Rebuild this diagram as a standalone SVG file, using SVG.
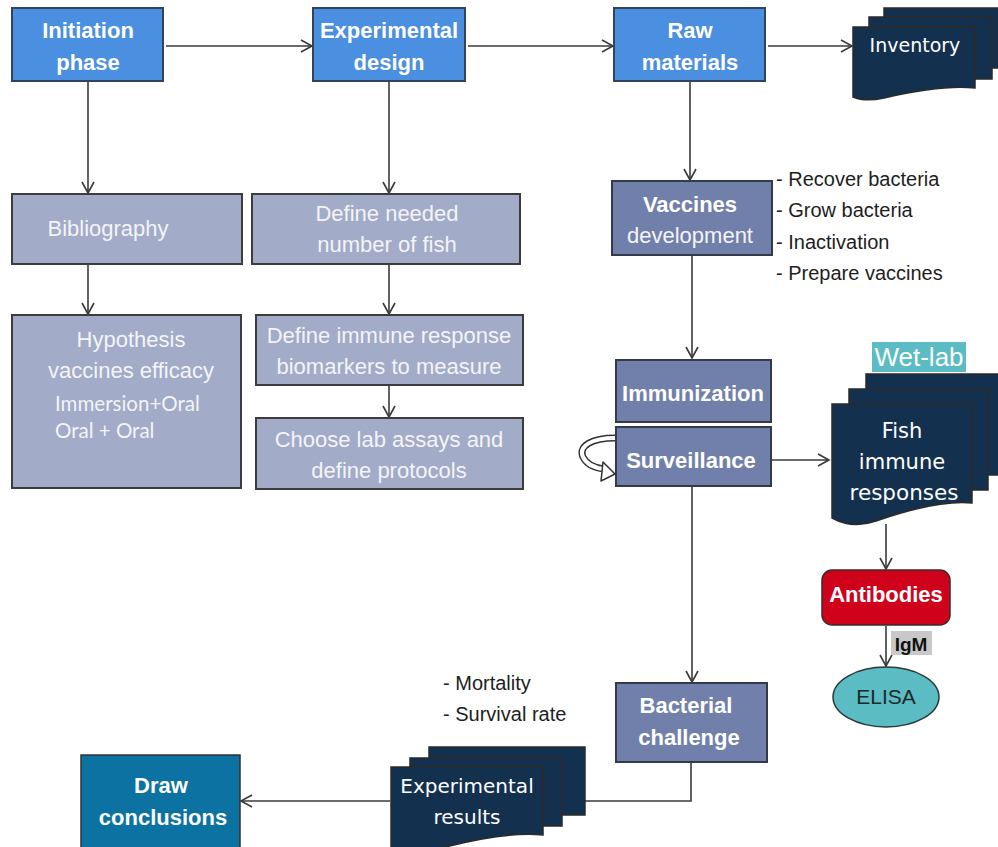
<svg xmlns="http://www.w3.org/2000/svg" width="998" height="847" viewBox="0 0 998 847">
<defs>
<style>
.blue{fill:#4a8fe0;stroke:#34435c;stroke-width:2}
.light{fill:#a2abc7;stroke:#3c3c3c;stroke-width:2}
.mid{fill:#7080ab;stroke:#333a4a;stroke-width:2}
.doc{fill:#14304f;stroke:#2a2a2a;stroke-width:1.5}
.t{font-family:"Liberation Sans",Arial,sans-serif;fill:#fff;text-anchor:middle}
.b{font-weight:bold;font-size:22px}
.r{font-size:22px;fill:#f4f4f8}
.d{font-family:"DejaVu Sans",Verdana,sans-serif;fill:#fff;text-anchor:middle}
.lst{font-family:"Liberation Sans",Arial,sans-serif;font-size:20px;fill:#1e1e1e}
.cal{font-family:Lato,"Open Sans",sans-serif;font-size:20.5px;fill:#f4f4f8}
.c{fill:none;stroke:#3a3a3a;stroke-width:1.6}
</style>
<marker id="ah" markerWidth="14" markerHeight="14" refX="12" refY="7" orient="auto" markerUnits="userSpaceOnUse">
<path d="M1,1 L12,7 L1,13" fill="none" stroke="#3a3a3a" stroke-width="1.6"/>
</marker>
</defs>
<rect width="998" height="847" fill="#fff"/>

<g id="connectors">
<line class="c" x1="166" y1="46" x2="312" y2="46" marker-end="url(#ah)"/>
<line class="c" x1="468" y1="46" x2="613" y2="46" marker-end="url(#ah)"/>
<line class="c" x1="768" y1="46" x2="852" y2="46" marker-end="url(#ah)"/>
<line class="c" x1="88" y1="82" x2="88" y2="193" marker-end="url(#ah)"/>
<line class="c" x1="389" y1="82" x2="389" y2="193" marker-end="url(#ah)"/>
<line class="c" x1="88" y1="265" x2="88" y2="314" marker-end="url(#ah)"/>
<line class="c" x1="389" y1="265" x2="389" y2="314" marker-end="url(#ah)"/>
<line class="c" x1="389" y1="386" x2="389" y2="417" marker-end="url(#ah)"/>
<line class="c" x1="690" y1="82" x2="690" y2="180" marker-end="url(#ah)"/>
<line class="c" x1="692" y1="256" x2="692" y2="358" marker-end="url(#ah)"/>
<line class="c" x1="772" y1="460" x2="829" y2="460" marker-end="url(#ah)"/>
<line class="c" x1="692" y1="487" x2="692" y2="682" marker-end="url(#ah)"/>
<line class="c" x1="886" y1="524" x2="886" y2="569" marker-end="url(#ah)"/>
<line class="c" x1="886" y1="626" x2="886" y2="666" marker-end="url(#ah)"/>
<polyline class="c" points="691,763 691,801 582,801"/>
<line class="c" x1="390" y1="801" x2="241" y2="801" marker-end="url(#ah)"/>
<g id="self-loop">
<path d="M615,438 C592,438 578,446 583,457 C587,465 595,468 604,469" fill="none" stroke="#333" stroke-width="7"/>
<path d="M615,438 C592,438 578,446 583,457 C587,465 595,468 604,469" fill="none" stroke="#fff" stroke-width="4"/>
<polygon points="615,474 603,462 601,481" fill="#fff" stroke="#333" stroke-width="1.5" stroke-linejoin="round"/>
</g>
</g>

<g id="initiation"><rect class="blue" x="12" y="8" width="151" height="73"/>
<text class="t b" x="88" y="38">Initiation</text><text class="t b" x="88" y="70">phase</text></g>
<g id="experimental-design"><rect class="blue" x="313" y="8" width="152" height="73"/>
<text class="t b" x="389" y="38">Experimental</text><text class="t b" x="389" y="70">design</text></g>
<g id="raw-materials"><rect class="blue" x="614" y="8" width="151" height="73"/>
<text class="t b" x="690" y="38">Raw</text><text class="t b" x="690" y="70">materials</text></g>

<g id="inventory">
<rect class="doc" x="884" y="8" width="125" height="60"/>
<rect class="doc" x="869" y="17" width="123" height="62"/>
<path class="doc" d="M853,27 H975 V88 C945,85 910,92 884,98 C870,101 860,100 853,97 Z"/>
<text class="d" x="915" y="52" font-size="19">Inventory</text></g>

<g id="bibliography"><rect class="light" x="12" y="194" width="230" height="70"/>
<text class="t r" x="108" y="236">Bibliography</text></g>
<g id="define-fish"><rect class="light" x="252" y="194" width="268" height="70"/>
<text class="t r" x="387" y="221">Define needed</text><text class="t r" x="387" y="252">number of fish</text></g>

<g id="hypothesis"><rect class="light" x="12" y="315" width="229" height="173"/>
<text class="t r" x="131" y="347">Hypothesis</text><text class="t r" x="131" y="378">vaccines efficacy</text>
<text class="cal" x="55" y="411">Immersion+Oral</text><text class="cal" x="55" y="438">Oral + Oral</text></g>
<g id="biomarkers"><rect class="light" x="256" y="315" width="267" height="70"/>
<text class="t r" x="389" y="343">Define immune response</text><text class="t r" x="389" y="374">biomarkers to measure</text></g>
<g id="lab-assays"><rect class="light" x="256" y="418" width="267" height="71"/>
<text class="t r" x="389" y="447">Choose lab assays and</text><text class="t r" x="389" y="478">define protocols</text></g>

<g id="vaccines-development"><rect class="mid" x="612" y="181" width="160" height="74"/>
<text class="t b" x="690" y="212">Vaccines</text><text class="t r" x="690" y="243">development</text></g>
<g id="vaccine-steps">
<text class="lst" x="776" y="186">- Recover bacteria</text>
<text class="lst" x="776" y="217">- Grow bacteria</text>
<text class="lst" x="776" y="249">- Inactivation</text>
<text class="lst" x="776" y="280">- Prepare vaccines</text></g>

<g id="immunization"><rect class="mid" x="616" y="360" width="155" height="62"/>
<text class="t b" x="693" y="401" font-size="21">Immunization</text></g>
<g id="surveillance"><rect class="mid" x="616" y="427" width="155" height="59"/>
<text class="t b" x="691" y="468">Surveillance</text></g>

<g id="wet-lab"><rect x="872" y="342" width="94" height="30" fill="#5bbcc4"/>
<text x="919" y="366" font-family="Liberation Sans,Arial,sans-serif" font-size="26" fill="#fff" text-anchor="middle">Wet-lab</text></g>

<g id="fish-immune">
<rect class="doc" x="866" y="374" width="140" height="101"/>
<rect class="doc" x="849" y="389" width="139" height="101"/>
<path class="doc" d="M832,404 H972 V503 C942,500 905,511 876,521 C859,527 845,525 832,518 Z"/>
<text class="d" x="902" y="438" font-size="21">Fish</text>
<text class="d" x="902" y="469" font-size="21">immune</text>
<text class="d" x="904" y="500" font-size="21.5">responses</text></g>

<g id="antibodies"><rect x="822" y="570" width="128" height="55" rx="10" fill="#d0021b" stroke="#3a2a2a" stroke-width="1.5"/>
<text class="t b" x="886" y="602" font-size="21">Antibodies</text></g>
<g id="igm"><rect x="891" y="631" width="41" height="24" fill="#c8c8c8"/>
<text x="911" y="651" font-family="Liberation Sans,Arial,sans-serif" font-weight="bold" font-size="19" fill="#111" text-anchor="middle">IgM</text></g>
<g id="elisa"><ellipse cx="886" cy="697" rx="53" ry="30" fill="#5bbcc4" stroke="#2a3a3a" stroke-width="1.5"/>
<text x="886" y="704" font-family="Liberation Sans,Arial,sans-serif" font-size="21" fill="#1a2a2a" text-anchor="middle">ELISA</text></g>

<g id="bacterial-challenge"><rect class="mid" x="616" y="683" width="151" height="79"/>
<text class="t b" x="686" y="713">Bacterial</text><text class="t b" x="689" y="745">challenge</text></g>

<g id="outcomes">
<text class="lst" x="443" y="690">- Mortality</text>
<text class="lst" x="443" y="721">- Survival rate</text></g>

<g id="experimental-results">
<rect class="doc" x="429" y="747" width="156" height="68"/>
<rect class="doc" x="410" y="758" width="152" height="68"/>
<path class="doc" d="M391,767 H543 V835 C512,832 472,840 442,848 C420,853 402,853 391,850 Z"/>
<text class="d" x="467" y="793" font-size="20">Experimental</text>
<text class="d" x="467" y="824" font-size="20">results</text></g>

<g id="draw-conclusions"><rect x="81" y="755" width="159" height="100" fill="#0b72a1" stroke="#333" stroke-width="1.5"/>
<text class="t b" x="161" y="793" font-size="21">Draw</text><text class="t b" x="163" y="825" font-size="21">conclusions</text></g>
</svg>
